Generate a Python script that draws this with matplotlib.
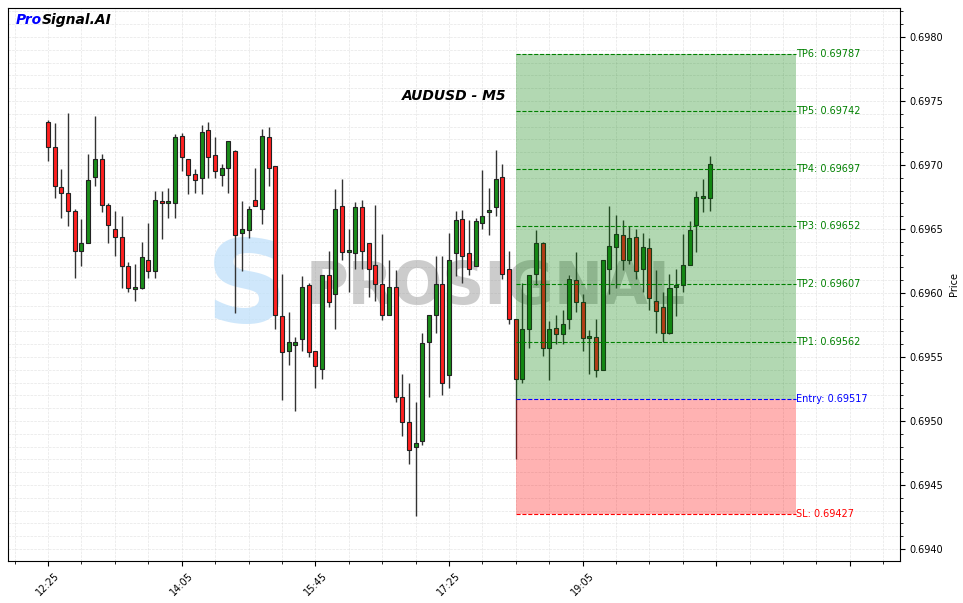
import matplotlib
matplotlib.use("Agg")
import matplotlib.pyplot as plt
from matplotlib.ticker import MultipleLocator, FixedLocator, FixedFormatter

# AUDUSD M5 candles, 12:25 -> 20:40
opens = [0.69734, 0.69714, 0.69683, 0.69678, 0.69664, 0.69633, 0.69639, 0.69691, 0.69705, 0.69669,
         0.69650, 0.69644, 0.69621, 0.69603, 0.69604, 0.69626, 0.69617, 0.69672, 0.69670, 0.69670,
         0.69723, 0.69705, 0.69693, 0.69690, 0.69727, 0.69708, 0.69692, 0.69698, 0.69711, 0.69647,
         0.69649, 0.69673, 0.69666, 0.69722, 0.69699, 0.69582, 0.69555, 0.69559, 0.69564, 0.69606,
         0.69555, 0.69541, 0.69614, 0.69599, 0.69668, 0.69632, 0.69631, 0.69667, 0.69639, 0.69622,
         0.69607, 0.69583, 0.69605, 0.69519, 0.69499, 0.69480, 0.69484, 0.69562, 0.69583, 0.69607,
         0.69536, 0.69631, 0.69658, 0.69631, 0.69621, 0.69655, 0.69663, 0.69667, 0.69691, 0.69619,
         0.69580, 0.69533, 0.69572, 0.69615, 0.69639, 0.69557, 0.69573, 0.69568, 0.69580, 0.69610,
         0.69593, 0.69565, 0.69566, 0.69540, 0.69619, 0.69636, 0.69645, 0.69626, 0.69644, 0.69619,
         0.69635, 0.69594, 0.69589, 0.69569, 0.69605, 0.69606, 0.69622, 0.69653, 0.69674, 0.69674]
highs = [0.69735, 0.69733, 0.69697, 0.69741, 0.69666, 0.69658, 0.69709, 0.69738, 0.69709, 0.69670,
         0.69664, 0.69660, 0.69624, 0.69623, 0.69640, 0.69655, 0.69680, 0.69680, 0.69682, 0.69724,
         0.69725, 0.69705, 0.69697, 0.69731, 0.69734, 0.69722, 0.69701, 0.69719, 0.69712, 0.69672,
         0.69668, 0.69698, 0.69728, 0.69730, 0.69699, 0.69615, 0.69585, 0.69566, 0.69613, 0.69608,
         0.69555, 0.69614, 0.69633, 0.69681, 0.69689, 0.69650, 0.69671, 0.69673, 0.69639, 0.69669,
         0.69646, 0.69626, 0.69618, 0.69537, 0.69530, 0.69515, 0.69569, 0.69583, 0.69629, 0.69629,
         0.69647, 0.69664, 0.69665, 0.69657, 0.69659, 0.69696, 0.69682, 0.69712, 0.69701, 0.69633,
         0.69580, 0.69608, 0.69614, 0.69649, 0.69640, 0.69578, 0.69583, 0.69587, 0.69614, 0.69632,
         0.69599, 0.69571, 0.69580, 0.69626, 0.69668, 0.69661, 0.69657, 0.69652, 0.69650, 0.69647,
         0.69643, 0.69618, 0.69601, 0.69615, 0.69619, 0.69646, 0.69656, 0.69680, 0.69689, 0.69707]
lows = [0.69703, 0.69674, 0.69659, 0.69652, 0.69612, 0.69621, 0.69639, 0.69684, 0.69663, 0.69639,
        0.69629, 0.69604, 0.69601, 0.69594, 0.69603, 0.69612, 0.69612, 0.69642, 0.69659, 0.69659,
        0.69695, 0.69677, 0.69678, 0.69677, 0.69690, 0.69690, 0.69684, 0.69678, 0.69584, 0.69617,
        0.69643, 0.69668, 0.69654, 0.69684, 0.69572, 0.69516, 0.69544, 0.69508, 0.69555, 0.69550,
        0.69526, 0.69533, 0.69589, 0.69572, 0.69626, 0.69601, 0.69619, 0.69619, 0.69597, 0.69594,
        0.69579, 0.69583, 0.69515, 0.69488, 0.69466, 0.69426, 0.69481, 0.69519, 0.69569, 0.69520,
        0.69526, 0.69613, 0.69608, 0.69614, 0.69621, 0.69650, 0.69645, 0.69660, 0.69611, 0.69576,
        0.69470, 0.69530, 0.69557, 0.69606, 0.69551, 0.69532, 0.69560, 0.69560, 0.69572, 0.69585,
        0.69555, 0.69537, 0.69534, 0.69540, 0.69599, 0.69604, 0.69618, 0.69623, 0.69611, 0.69601,
        0.69587, 0.69569, 0.69562, 0.69568, 0.69582, 0.69601, 0.69622, 0.69632, 0.69663, 0.69664]
closes = [0.69714, 0.69684, 0.69678, 0.69664, 0.69633, 0.69639, 0.69688, 0.69705, 0.69669, 0.69653,
          0.69644, 0.69621, 0.69604, 0.69604, 0.69628, 0.69617, 0.69673, 0.69670, 0.69672, 0.69722,
          0.69706, 0.69692, 0.69688, 0.69726, 0.69706, 0.69695, 0.69698, 0.69719, 0.69645, 0.69650,
          0.69666, 0.69668, 0.69723, 0.69698, 0.69583, 0.69554, 0.69562, 0.69562, 0.69605, 0.69554,
          0.69543, 0.69614, 0.69593, 0.69666, 0.69632, 0.69632, 0.69667, 0.69633, 0.69619, 0.69607,
          0.69583, 0.69605, 0.69519, 0.69499, 0.69477, 0.69483, 0.69561, 0.69583, 0.69607, 0.69530,
          0.69626, 0.69657, 0.69629, 0.69619, 0.69656, 0.69660, 0.69664, 0.69689, 0.69615, 0.69580,
          0.69533, 0.69572, 0.69614, 0.69639, 0.69557, 0.69572, 0.69568, 0.69576, 0.69611, 0.69593,
          0.69565, 0.69565, 0.69540, 0.69626, 0.69637, 0.69646, 0.69626, 0.69643, 0.69617, 0.69636,
          0.69596, 0.69586, 0.69569, 0.69604, 0.69605, 0.69622, 0.69649, 0.69675, 0.69674, 0.69701]

tick_labels = ['12:25', '14:05', '15:45', '17:25', '19:05', '', '']

# trade setup
entry_bar = 70
zone_bars = 42
entry = 0.69517
sl = 0.69427
tp_names = ['TP1', 'TP2', 'TP3', 'TP4', 'TP5', 'TP6']
tp_levels = [0.69562, 0.69607, 0.69652, 0.69697, 0.69742, 0.69787]


def plot_candles(ax):
    for i, (o, h, l, c) in enumerate(zip(opens, highs, lows, closes)):
        color = '#1a8c1a' if c >= o else '#ff2020'
        ax.vlines(i, l, h, color='#333333', linewidth=1, zorder=2)
        height = max(abs(c - o), 0.000015)
        ax.bar(i, height, bottom=min(o, c), width=0.6, color=color,
               edgecolor='#222222', linewidth=0.8, zorder=3)


fig, ax = plt.subplots(figsize=(9.63, 6.03), dpi=100)
fig.subplots_adjust(left=0.0083, right=0.9346, top=0.9867, bottom=0.0697)

plot_candles(ax)

# watermark (logo S + wordmark)
ax.text(0.268, 0.49, 'S', transform=ax.transAxes, fontsize=82, fontweight='bold',
        color='#bfe0fa', alpha=0.75, ha='center', va='center', zorder=1)
ax.text(0.547, 0.495, 'PROSIGNAL', transform=ax.transAxes, fontsize=42, fontweight='bold',
        color='#9a9a9a', alpha=0.5, ha='center', va='center', zorder=1)

# trade zones
x0, x1 = entry_bar, entry_bar + zone_bars
ax.fill_between([x0, x1], entry, tp_levels[-1], color='green', alpha=0.3, linewidth=0, zorder=4)
ax.fill_between([x0, x1], sl, entry, color='red', alpha=0.3, linewidth=0, zorder=4)

for name, lvl in zip(tp_names, tp_levels):
    ax.hlines(lvl, x0, x1, colors='green', linestyles='--', linewidth=0.8, zorder=5)
    ax.text(x1, lvl, f'{name}: {lvl:.5f}', color='green', fontsize=7, va='center', ha='left')
ax.hlines(entry, x0, x1, colors='blue', linestyles='--', linewidth=0.8, zorder=5)
ax.text(x1, entry, f'Entry: {entry:.5f}', color='blue', fontsize=7, va='center', ha='left')
ax.hlines(sl, x0, x1, colors='red', linestyles='--', linewidth=0.8, zorder=5)
ax.text(x1, sl, f'SL: {sl:.5f}', color='red', fontsize=7, va='center', ha='left')

ax.text(0.5, 0.84, 'AUDUSD - M5', transform=ax.transAxes, fontsize=10,
        fontweight='bold', fontstyle='italic', ha='center', va='center')
ax.text(0.009, 0.978, 'Pro', transform=ax.transAxes, fontsize=10, fontweight='bold',
        fontstyle='italic', color='blue', ha='left', va='center')
ax.text(0.038, 0.978, 'Signal.AI', transform=ax.transAxes, fontsize=10, fontweight='bold',
        fontstyle='italic', color='black', ha='left', va='center')

ax.set_xlim(-6, 127.5)
ax.set_ylim(0.693906, 0.698227)

ax.xaxis.set_major_locator(FixedLocator(list(range(0, 140, 20))))
ax.xaxis.set_major_formatter(FixedFormatter(tick_labels))
ax.xaxis.set_minor_locator(MultipleLocator(5))
plt.setp(ax.get_xticklabels(), rotation=45, fontsize=7)

ax.yaxis.tick_right()
ax.yaxis.set_label_position('right')
ax.yaxis.set_major_locator(MultipleLocator(0.0005))
ax.yaxis.set_minor_locator(MultipleLocator(0.0001))
ax.yaxis.set_major_formatter(matplotlib.ticker.FormatStrFormatter('%.4f'))
ax.tick_params(axis='y', labelsize=7)
ax.set_ylabel('Price', fontsize=7)

ax.grid(which='both', linestyle='--', color='#cccccc', linewidth=0.5, alpha=0.5, zorder=0)
ax.set_axisbelow(True)

fig.savefig('out.png', dpi=100)
